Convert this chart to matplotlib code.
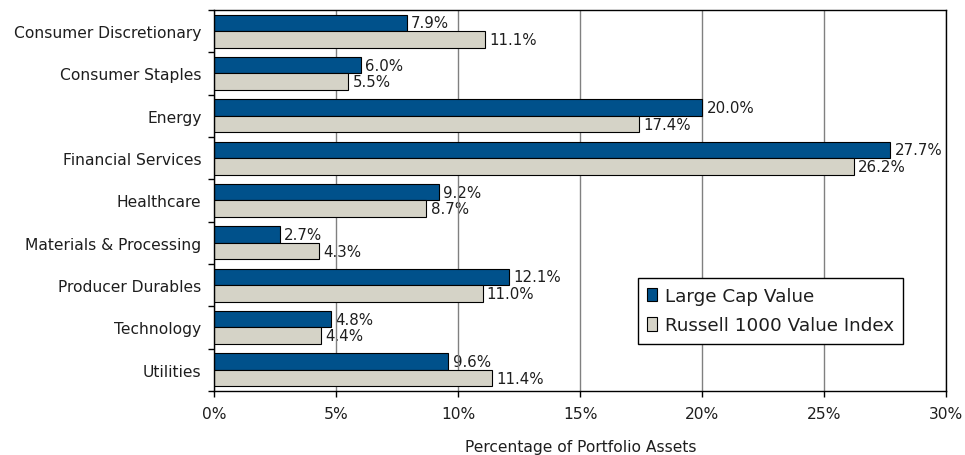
import matplotlib
matplotlib.use("Agg")
import matplotlib.pyplot as plt
import numpy as np
from matplotlib.ticker import FixedLocator, FuncFormatter

categories = ["Consumer Discretionary", "Consumer Staples", "Energy", "Financial Services",
              "Healthcare", "Materials & Processing", "Producer Durables", "Technology", "Utilities"]
large_cap = [7.9, 6.0, 20.0, 27.7, 9.2, 2.7, 12.1, 4.8, 9.6]
russell = [11.1, 5.5, 17.4, 26.2, 8.7, 4.3, 11.0, 4.4, 11.4]
series_names = ["Large Cap Value", "Russell 1000 Value Index"]
xticks = [0, 5, 10, 15, 20, 25, 30]

blue = "#00518B"
gray = "#D5D3C7"
txt = "#1e1e1e"

plt.rcParams['font.family'] = ['DejaVu Sans']
fig = plt.figure(figsize=(9.65, 4.56), dpi=100)
ax = fig.add_axes([0.2218, 0.1404, 0.9808 - 0.2218, 0.9759 - 0.1404])

y = np.arange(len(categories))
h = 0.39
ax.barh(y - h / 2, large_cap, height=h, color=blue, edgecolor="black", linewidth=0.8,
        label=series_names[0], zorder=3)
ax.barh(y + h / 2, russell, height=h, color=gray, edgecolor="black", linewidth=0.8,
        label=series_names[1], zorder=3)

for yy, v in zip(y - h / 2, large_cap):
    ax.text(v + 0.17, yy, f"{v:.1f}%", va="center", ha="left", fontsize=10.8, color=txt, zorder=2)
for yy, v in zip(y + h / 2, russell):
    ax.text(v + 0.17, yy, f"{v:.1f}%", va="center", ha="left", fontsize=10.8, color=txt, zorder=2)

ax.set_xlim(0, 30)
ax.set_ylim(len(categories) - 0.5, -0.5)
ax.set_xticks(xticks)
ax.xaxis.set_major_formatter(FuncFormatter(lambda v, p: f"{v:.0f}%"))
ax.set_yticks(y)
ax.set_yticklabels(categories)
ax.yaxis.set_minor_locator(FixedLocator(np.arange(-0.5, len(categories), 1.0)))
ax.tick_params(axis="y", which="major", length=0, pad=9, labelsize=11.2, labelcolor=txt)
ax.tick_params(axis="y", which="minor", length=4, width=1, direction="out", color="black")
ax.tick_params(axis="x", which="major", length=4, width=1, direction="out", pad=7,
               labelsize=11.2, labelcolor=txt)
ax.xaxis.grid(True, color="#808080", linewidth=1, zorder=1)
ax.set_axisbelow(False)
for s in ax.spines.values():
    s.set_color("black")
    s.set_linewidth(1)
    s.set_zorder(4)

ax.set_xlabel("Percentage of Portfolio Assets", fontsize=11.2, color=txt, labelpad=13)

leg = ax.legend(loc="upper left", bbox_to_anchor=(0.579, 0.297), fontsize=13.2,
                frameon=True, fancybox=False, shadow=False, edgecolor="black",
                framealpha=1, handlelength=0.55, handleheight=0.75, handletextpad=0.4,
                borderpad=0.5, labelspacing=0.62, borderaxespad=0)
leg.get_frame().set_linewidth(1)
for t in leg.get_texts():
    t.set_color(txt)

fig.savefig("out.png", dpi=100)
